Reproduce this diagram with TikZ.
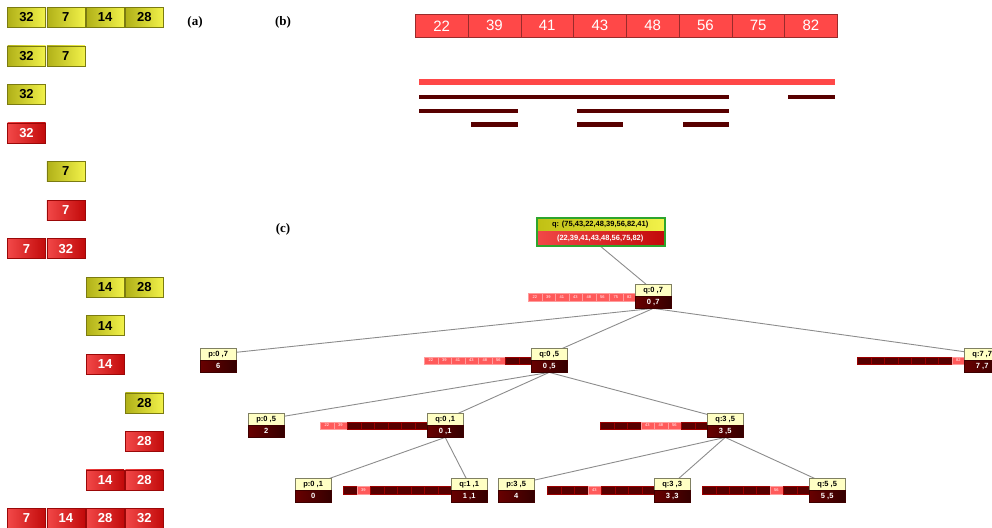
\documentclass[tikz,border=0pt]{standalone}
\usepackage{fontspec}
\setmainfont{Liberation Sans}
\newfontfamily\serifb{Liberation Serif}
\usetikzlibrary{backgrounds}
\definecolor{yl}{HTML}{B0B018}
\definecolor{yr}{HTML}{F2F24A}
\definecolor{rl}{HTML}{F24848}
\definecolor{rr}{HTML}{C20A0A}
\definecolor{bred}{HTML}{FF4848}
\definecolor{dred}{HTML}{580000}
\definecolor{lred}{HTML}{FF5A5A}
\definecolor{pale}{HTML}{FFFFC4}
\definecolor{edgec}{HTML}{8C8C8C}
\definecolor{grn}{HTML}{2DA52D}
\tikzset{
  acellY/.style={minimum width=38pt, minimum height=20pt, inner sep=0pt,
    left color=yl, right color=yr, draw=yl!70!black, line width=0.6pt,
    font=\fontsize{13}{13}\selectfont\bfseries},
  acellR/.style={minimum width=38pt, minimum height=20pt, inner sep=0pt,
    left color=rl, right color=rr, draw=rr!80!black, line width=0.6pt, text=white,
    font=\fontsize{13}{13}\selectfont\bfseries},
  bcell/.style={minimum width=52.75pt, minimum height=23pt, inner sep=0pt,
    fill=bred, draw=bred!60!black, line width=0.6pt, text=white,
    font=\fontsize{15}{15}\selectfont},
  lab/.style={font=\serifb\fontsize{13}{13}\selectfont\bfseries, inner sep=0pt},
  rbar/.style={line width=5.5pt, draw=bred},
  dbar/.style={line width=4.5pt, draw=dred},
  tbox/.style={minimum width=36pt, minimum height=24pt, inner sep=0pt},
  ttop/.style={minimum width=36pt, minimum height=12pt, inner sep=0pt, fill=pale,
    draw=pale!50!black, line width=0.4pt, font=\fontsize{7.5}{7.5}\selectfont\bfseries},
  tbot/.style={minimum width=36pt, minimum height=12pt, inner sep=0pt,
    left color=dred!90!red, right color=dred!60!black, draw=dred!70!black, line width=0.4pt,
    text=white, font=\fontsize{7.5}{7.5}\selectfont\bfseries},
  scell/.style={minimum width=13.5pt, minimum height=7.5pt, inner sep=0pt, line width=0.4pt,
    font=\fontsize{4}{4}\selectfont},
  lc/.style={scell, fill=lred, draw=lred!60!white, text=white},
  dc/.style={scell, fill=dred, draw=dred!60!red},
  rtop/.style={minimum width=128pt, minimum height=14pt, inner sep=0pt,
    left color=yl!80!yellow, right color=yr, font=\fontsize{7.5}{7.5}\selectfont\bfseries},
  rbot/.style={minimum width=128pt, minimum height=14pt, inner sep=0pt,
    left color=rl, right color=rr, text=white, font=\fontsize{7.5}{7.5}\selectfont\bfseries},
  tedge/.style={draw=edgec, line width=0.9pt}
}
\newcommand\acell[5]{\node[#4] (#1) at ({26.5+39.3*(#2-1)},{17.3+38.55*(#3-1)}) {#5};}
\newcommand\tnode[5]{%
  \node[tbox, anchor=north west] (#1) at (#2,#3) {};
  \node[ttop, anchor=north west] (#1-t) at (#1.north west) {#4};
  \node[tbot, anchor=south west] (#1-b) at (#1.south west) {#5};}
\def\dmark{d}
\newcommand\cstrip[4]{%
  \foreach \v [count=\i from 0] in {#4} {
    \ifx\v\dmark
      \node[dc, anchor=west] (#1-\i) at ({#2+13.5*\i},#3) {};
    \else
      \node[lc, anchor=west] (#1-\i) at ({#2+13.5*\i},#3) {\v};
    \fi}}
\begin{document}
\begin{tikzpicture}[x=1pt,y=-1pt]
\clip (0,0) rectangle (992,527);
% (a)
\acell{a11}{1}{1}{acellY}{32}\acell{a12}{2}{1}{acellY}{7}\acell{a13}{3}{1}{acellY}{14}\acell{a14}{4}{1}{acellY}{28}
\acell{a21}{1}{2}{acellY}{32}\acell{a22}{2}{2}{acellY}{7}
\acell{a31}{1}{3}{acellY}{32}
\acell{a41}{1}{4}{acellR}{32}
\acell{a52}{2}{5}{acellY}{7}
\acell{a62}{2}{6}{acellR}{7}
\acell{a71}{1}{7}{acellR}{7}\acell{a72}{2}{7}{acellR}{32}
\acell{a83}{3}{8}{acellY}{14}\acell{a84}{4}{8}{acellY}{28}
\acell{a93}{3}{9}{acellY}{14}
\acell{a103}{3}{10}{acellR}{14}
\acell{a114}{4}{11}{acellY}{28}
\acell{a124}{4}{12}{acellR}{28}
\acell{a133}{3}{13}{acellR}{14}\acell{a134}{4}{13}{acellR}{28}
\acell{a141}{1}{14}{acellR}{7}\acell{a142}{2}{14}{acellR}{14}\acell{a143}{3}{14}{acellR}{28}\acell{a144}{4}{14}{acellR}{32}
\node[lab] (la) at (195,22) {(a)};
\node[lab] (lb) at (283,22) {(b)};
\node[lab] (lc) at (283,229) {(c)};
% (b)
\foreach \v [count=\i from 0] in {22,39,41,43,48,56,75,82}
  \node[bcell, anchor=west] (b\i) at ({415+52.75*\i},25.8) {\v};
\draw[rbar] (419,82) -- (835,82);
\draw[dbar] (419,97) -- (729,97);
\draw[dbar] (788,97) -- (835,97);
\draw[dbar] (419,110.8) -- (518,110.8);
\draw[dbar] (577,110.8) -- (729,110.8);
\draw[dbar] (471,124.5) -- (518,124.5);
\draw[dbar] (577,124.5) -- (623,124.5);
\draw[dbar] (683,124.5) -- (729,124.5);
% (c) strips
\cstrip{s1}{528}{297}{22,39,41,43,48,56,75,82}
\cstrip{s2}{424}{360.5}{22,39,41,43,48,56,d,d}
\cstrip{s3}{857}{360.5}{d,d,d,d,d,d,d,82}
\cstrip{s4}{320}{425.5}{22,39,d,d,d,d,d,d}
\cstrip{s5}{600}{425.5}{d,d,d,43,48,56,d,d}
\cstrip{s6}{343}{490}{d,39,d,d,d,d,d,d}
\cstrip{s7}{547}{490}{d,d,d,43,d,d,d,d}
\cstrip{s8}{702}{490}{d,d,d,d,d,56,d,d}
% root
\node[rtop, anchor=north west] (root-t) at (536,217) {q: (75,43,22,48,39,56,82,41)};
\node[rbot, anchor=north west] (root-b) at (root-t.south west) {(22,39,41,43,48,56,75,82)};
\node[draw=grn, line width=1.5pt, inner sep=0pt, minimum width=128pt, minimum height=28pt, anchor=north west] (root) at (536,217) {};
% tree nodes
\tnode{q07}{635}{284}{q:0 ,7}{0 ,7}
\tnode{p07}{200}{348}{p:0 ,7}{6}
\tnode{q05}{531}{348}{q:0 ,5}{0 ,5}
\tnode{q77}{964}{348}{q:7 ,7}{7 ,7}
\tnode{p05}{248}{413}{p:0 ,5}{2}
\tnode{q01}{427}{413}{q:0 ,1}{0 ,1}
\tnode{q35}{707}{413}{q:3 ,5}{3 ,5}
\tnode{p01}{295}{478}{p:0 ,1}{0}
\tnode{q11}{451}{478}{q:1 ,1}{1 ,1}
\tnode{p35}{498}{478}{p:3 ,5}{4}
\tnode{q33}{654}{478}{q:3 ,3}{3 ,3}
\tnode{q55}{809}{478}{q:5 ,5}{5 ,5}
\begin{pgfonlayer}{background}
\draw[tedge] (root.south) -- (q07-t.center);
\draw[tedge] (q07.south) -- (p07-t.center);
\draw[tedge] (q07.south) -- (q05-t.center);
\draw[tedge] (q07.south) -- (q77-t.center);
\draw[tedge] (q05.south) -- (p05-t.center);
\draw[tedge] (q05.south) -- (q01-t.center);
\draw[tedge] (q05.south) -- (q35-t.center);
\draw[tedge] (q01.south) -- (p01-t.center);
\draw[tedge] (q01.south) -- (q11-t.center);
\draw[tedge] (q35.south) -- (p35-t.center);
\draw[tedge] (q35.south) -- (q33-t.center);
\draw[tedge] (q35.south) -- (q55-t.center);
\end{pgfonlayer}
\end{tikzpicture}
\end{document}
